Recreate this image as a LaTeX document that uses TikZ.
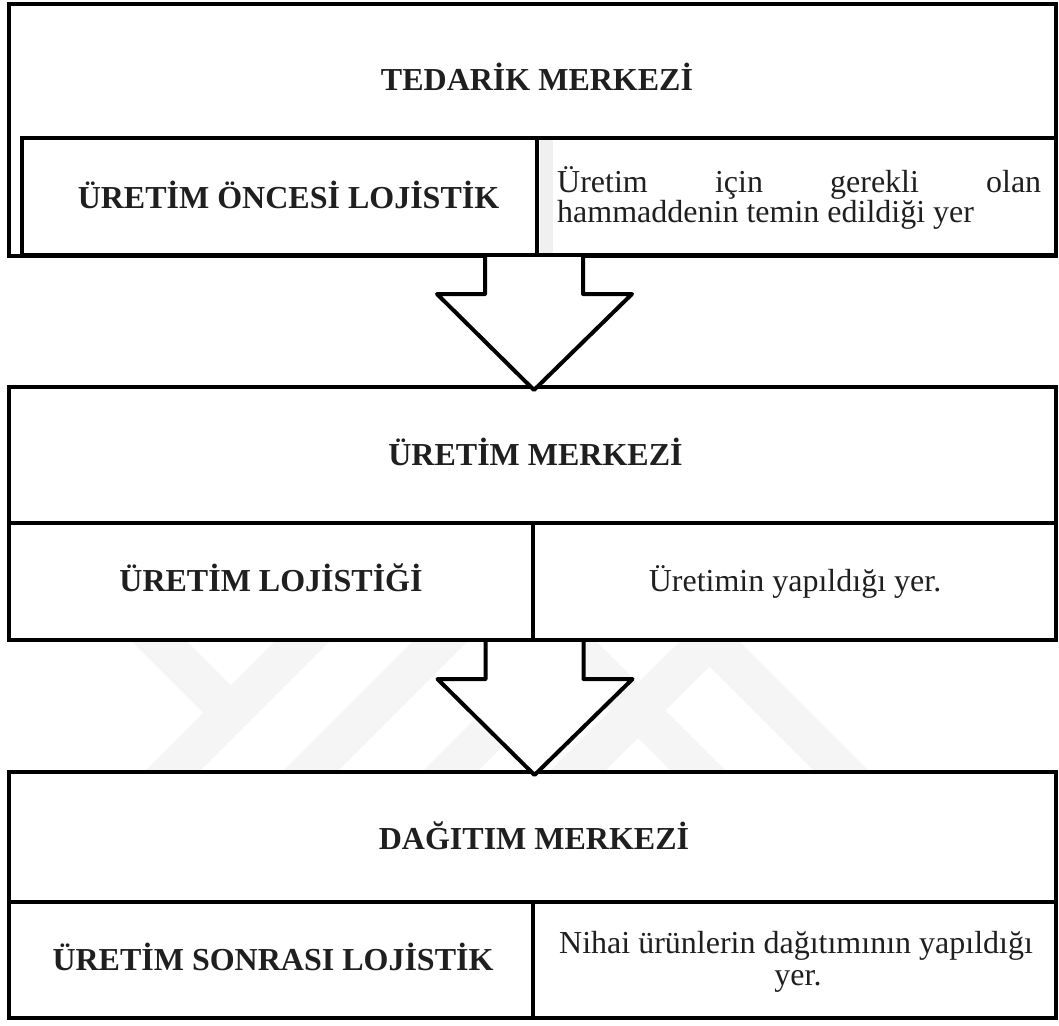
\documentclass[tikz,border=0pt]{standalone}
\usepackage{fontspec}
\setmainfont{Liberation Serif}
\usetikzlibrary{calc}

% block arrow: #1 = middle of its top on the upper frame, #2 = tip
\newcommand\blockarrowfrom[2]{%
  \draw[blockarrow] ($(#1)+(-49,0)$) -- ($(#1)+(-49,39)$) -- ($(#1)+(-97,39)$)
    -- (#2) -- ($(#1)+(98,39)$) -- ($(#1)+(49,39)$) -- ($(#1)+(49,0)$);}

\begin{document}
\begin{tikzpicture}[x=1pt,y=-1pt,
  frame/.style 2 args={draw=black, line width=4pt, rectangle, inner sep=0pt,
    outer sep=0pt, anchor=north west, minimum width=#1, minimum height=#2},
  head/.style={font=\fontsize{32pt}{31pt}\selectfont\bfseries, anchor=base,
    inner sep=0pt, text=black!88},
  note/.style={font=\fontsize{32pt}{31pt}\selectfont, anchor=base,
    inner sep=0pt, text=black!88},
  blockarrow/.style={draw=black, fill=white, line width=4pt, line join=round},
  markband/.style={draw=gray!8, line width=39pt, line cap=butt, line join=miter}]

\useasboundingbox (0,0) rectangle (1059,1025);

% faint background emblem, seen only between the second and third frames
\begin{scope}
  \clip (0,640) rectangle (1059,772);
  \draw[markband] (143.5,800) -- (343.5,600);
  \draw[markband] (78,560) -- (230.75,712.75);
  \draw[markband] (281.5,800) -- (481.5,600);
  \draw[markband] (421.5,800) -- (574.5,647) -- (727.5,800);
  \draw[markband] (548.5,800) -- (709.5,639) -- (870.5,800);
\end{scope}

% thin shaded strip next to the first divider
\fill[gray!12] (539.5,140) rectangle (553,253);

% frames (drawn as empty named nodes)
\path
  (9,4)      node[frame={1047pt}{252pt}] (b1) {}
  (22,138)   node[frame={515pt}{117pt}] (c1l) {}
  (537,138)  node[frame={519pt}{117pt}] (c1r) {}
  (9,387)    node[frame={1047pt}{136pt}] (b2) {}
  (9,523)    node[frame={524pt}{117pt}] (c2l) {}
  (533,523)  node[frame={523pt}{117pt}] (c2r) {}
  (9,772)    node[frame={1047pt}{130pt}] (b3) {}
  (9,902)    node[frame={524pt}{116pt}] (c3l) {}
  (533,902)  node[frame={523pt}{116pt}] (c3r) {};

% block arrows between the frames
\coordinate (a1s) at ($(c1l.south east)+(-3,0)$);
\coordinate (a1t) at ($(a1s |- b2.north)+(0,3)$);
\blockarrowfrom{a1s}{a1t}
\coordinate (a2s) at ($(c2l.south east)+(1.5,0)$);
\coordinate (a2t) at ($(a2s |- b3.north)+(0,3)$);
\blockarrowfrom{a2s}{a2t}

% redraw the frame edges the arrows start from
\draw[line width=4pt] (c1l.south west) -- (c1r.south east);
\draw[line width=4pt] (c2l.south west) -- (c2r.south east);

% texts
\node[head] (t1)  at (537,90)    {TEDARİK MERKEZİ};
\node[head] (t1l) at (288.5,208) {ÜRETİM ÖNCESİ LOJİSTİK};
\node[note, anchor=base west] (t1r1) at (557,192)
  {\makebox[484pt][s]{Üretim için gerekli olan}};
\node[note, anchor=base west] (t1r2) at (557,222)
  {hammaddenin temin edildiği yer};

\node[head] (t2)  at (535.5,465) {ÜRETİM MERKEZİ};
\node[head] (t2l) at (271,591.5) {ÜRETİM LOJİSTİĞİ};
\node[note] (t2r) at (795,591.5) {Üretimin yapıldığı yer.};

\node[head] (t3)  at (534,849)   {DAĞITIM MERKEZİ};
\node[head] (t3l) at (273,970.5) {ÜRETİM SONRASI LOJİSTİK};
\node[note] (t3r1) at (796,953)  {Nihai ürünlerin dağıtımının yapıldığı};
\node[note] (t3r2) at (798,985)  {yer.};

\end{tikzpicture}
\end{document}
